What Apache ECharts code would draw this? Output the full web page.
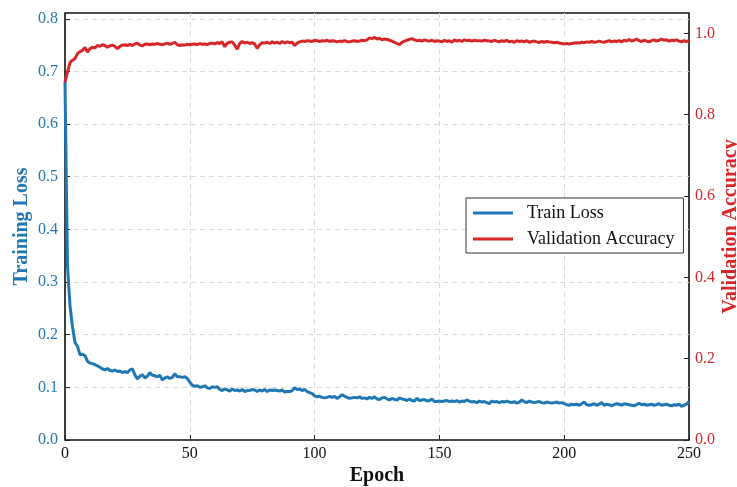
<!DOCTYPE html>
<html>
<head>
<meta charset="utf-8">
<script src="https://cdn.jsdelivr.net/npm/echarts@6/dist/echarts.min.js"></script>
<style>
  html, body { margin: 0; padding: 0; background: #fff; }
  #chart { width: 737px; height: 487px; }
</style>
</head>
<body>
<div id="chart"></div>
<script>
// training loss per epoch (0..250)
const trainLoss = [
  0.680, 0.330, 0.255, 0.215, 0.185, 0.178, 0.162, 0.163, 0.160, 0.150,
  0.146, 0.145, 0.143, 0.141, 0.138, 0.135, 0.133, 0.136, 0.132, 0.131,
  0.133, 0.130, 0.131, 0.128, 0.130, 0.128, 0.133, 0.135, 0.124, 0.116,
  0.121, 0.124, 0.118, 0.121, 0.128, 0.123, 0.122, 0.120, 0.123, 0.114,
  0.118, 0.120, 0.117, 0.119, 0.126, 0.120, 0.120, 0.119, 0.120, 0.117,
  0.110, 0.104, 0.102, 0.103, 0.100, 0.101, 0.103, 0.099, 0.098, 0.101,
  0.100, 0.101, 0.096, 0.094, 0.097, 0.095, 0.093, 0.097, 0.094, 0.095,
  0.093, 0.096, 0.092, 0.094, 0.094, 0.096, 0.095, 0.092, 0.095, 0.093,
  0.096, 0.092, 0.095, 0.094, 0.095, 0.094, 0.093, 0.095, 0.091, 0.092,
  0.092, 0.094, 0.099, 0.096, 0.097, 0.094, 0.096, 0.092, 0.090, 0.088,
  0.084, 0.082, 0.083, 0.081, 0.080, 0.081, 0.083, 0.081, 0.083, 0.079,
  0.082, 0.086, 0.083, 0.081, 0.079, 0.080, 0.081, 0.080, 0.082, 0.079,
  0.080, 0.078, 0.081, 0.079, 0.082, 0.078, 0.077, 0.080, 0.081, 0.078,
  0.076, 0.079, 0.077, 0.076, 0.080, 0.078, 0.077, 0.075, 0.078, 0.075,
  0.074, 0.079, 0.075, 0.076, 0.077, 0.074, 0.075, 0.078, 0.073, 0.073,
  0.074, 0.073, 0.074, 0.075, 0.073, 0.074, 0.073, 0.075, 0.072, 0.074,
  0.073, 0.076, 0.074, 0.072, 0.073, 0.071, 0.074, 0.072, 0.073, 0.071,
  0.069, 0.074, 0.072, 0.073, 0.071, 0.073, 0.072, 0.074, 0.072, 0.071,
  0.073, 0.070, 0.072, 0.076, 0.073, 0.071, 0.074, 0.072, 0.071, 0.072,
  0.073, 0.071, 0.070, 0.072, 0.071, 0.070, 0.071, 0.072, 0.070, 0.071,
  0.069, 0.067, 0.066, 0.068, 0.067, 0.068, 0.066, 0.069, 0.072, 0.067,
  0.066, 0.067, 0.069, 0.066, 0.068, 0.071, 0.066, 0.068, 0.067, 0.065,
  0.067, 0.069, 0.068, 0.066, 0.069, 0.068, 0.067, 0.066, 0.065, 0.067,
  0.070, 0.067, 0.068, 0.066, 0.067, 0.068, 0.066, 0.067, 0.069, 0.066,
  0.067, 0.068, 0.066, 0.065, 0.067, 0.066, 0.068, 0.064, 0.066, 0.068,
  0.073
];
// validation accuracy per epoch (0..250)
const valAcc = [
  0.880, 0.905, 0.928, 0.934, 0.938, 0.950, 0.955, 0.958, 0.965, 0.954,
  0.962, 0.966, 0.964, 0.970, 0.968, 0.972, 0.970, 0.966, 0.969, 0.971,
  0.968, 0.962, 0.968, 0.971, 0.972, 0.970, 0.973, 0.970, 0.974, 0.976,
  0.971, 0.969, 0.973, 0.974, 0.972, 0.974, 0.973, 0.975, 0.973, 0.972,
  0.974, 0.976, 0.973, 0.975, 0.978, 0.972, 0.970, 0.972, 0.971, 0.973,
  0.972, 0.973, 0.974, 0.972, 0.975, 0.973, 0.974, 0.972, 0.975, 0.976,
  0.974, 0.977, 0.975, 0.979, 0.967, 0.976, 0.978, 0.979, 0.971, 0.961,
  0.975, 0.980, 0.976, 0.978, 0.975, 0.977, 0.974, 0.963, 0.972, 0.977,
  0.976, 0.978, 0.975, 0.979, 0.976, 0.978, 0.975, 0.980, 0.976, 0.979,
  0.977, 0.978, 0.970, 0.976, 0.979, 0.981, 0.980, 0.982, 0.981, 0.980,
  0.983, 0.982, 0.980, 0.982, 0.981, 0.983, 0.980, 0.982, 0.981, 0.979,
  0.981, 0.980, 0.982, 0.980, 0.979, 0.981, 0.982, 0.980, 0.981, 0.983,
  0.982, 0.984, 0.989, 0.987, 0.990, 0.986, 0.988, 0.984, 0.986, 0.985,
  0.983, 0.981, 0.978, 0.975, 0.972, 0.978, 0.981, 0.983, 0.985, 0.987,
  0.984, 0.982, 0.983, 0.981, 0.984, 0.982, 0.981, 0.983, 0.980, 0.982,
  0.981, 0.979, 0.983, 0.980, 0.982, 0.978, 0.984, 0.981, 0.983, 0.980,
  0.984, 0.982, 0.983, 0.981, 0.983, 0.982, 0.982, 0.981, 0.983, 0.982,
  0.981, 0.980, 0.983, 0.981, 0.979, 0.982, 0.980, 0.983, 0.979, 0.981,
  0.978, 0.982, 0.980, 0.981, 0.979, 0.982, 0.978, 0.980, 0.981, 0.979,
  0.977, 0.980, 0.978, 0.980, 0.979, 0.978, 0.977, 0.978, 0.976, 0.975,
  0.974, 0.975, 0.974, 0.975, 0.976, 0.977, 0.976, 0.978, 0.977, 0.979,
  0.978, 0.980, 0.978, 0.979, 0.981, 0.979, 0.978, 0.980, 0.982, 0.979,
  0.981, 0.980, 0.982, 0.979, 0.983, 0.981, 0.985, 0.981, 0.983, 0.986,
  0.982, 0.980, 0.983, 0.981, 0.979, 0.982, 0.984, 0.981, 0.983, 0.986,
  0.983, 0.984, 0.981, 0.983, 0.982, 0.984, 0.981, 0.979, 0.982, 0.980,
  0.982
];
const epochs = trainLoss.map((v, i) => i);

const BLUE = "#1f77b4";
const RED = "#d62728";
const FONT = "Liberation Serif";
const gridLine = { color: "#d9d9d9", type: [5, 4] };

const chart = echarts.init(document.getElementById("chart"));
chart.setOption({
  animation: false,
  textStyle: { fontFamily: FONT },
  grid: {
    left: 65, right: 48, top: 13, bottom: 47,
    outerBoundsMode: "none",
    containLabel: false,
    show: true, borderColor: "#111", borderWidth: 1.6,
  },
  legend: {
    orient: "vertical",
    left: 466, top: 198,
    padding: [6, 9, 5, 7],
    itemGap: 8,
    itemWidth: 40,
    itemHeight: 3,
    itemTextGap: 14,
    icon: "rect",
    backgroundColor: "#fff",
    borderColor: "#333",
    borderWidth: 1,
    borderRadius: 0,
    textStyle: { fontFamily: FONT, fontSize: 18, color: "#111", padding: [0, 0, 0, 9] },
    data: ["Train Loss", "Validation Accuracy"],
  },
  xAxis: {
    type: "value",
    min: 0, max: 250, interval: 50,
    name: "Epoch",
    nameLocation: "middle",
    nameGap: 26,
    nameMoveOverlap: false,
    nameTextStyle: { fontFamily: FONT, fontSize: 20, fontWeight: "bold", color: "#111" },
    axisLine: { show: false },
    axisTick: { inside: true, length: 5, lineStyle: { color: "#222" } },
    axisLabel: { fontFamily: FONT, fontSize: 16, color: "#111", margin: 6 },
    splitLine: { show: true, showMinLine: false, showMaxLine: false, lineStyle: gridLine },
  },
  yAxis: [
    {
      type: "value",
      min: 0, max: 0.811, interval: 0.1,
      name: "Training Loss",
      nameLocation: "middle",
      nameGap: 33,
      nameMoveOverlap: false,
      nameTextStyle: { fontFamily: FONT, fontSize: 20, fontWeight: "bold", color: BLUE },
      axisLine: { show: false },
      axisTick: { inside: true, length: 5, lineStyle: { color: "#222" } },
      axisLabel: {
        fontFamily: FONT, fontSize: 16, color: BLUE, margin: 7,
        showMaxLabel: false,
        formatter: (v) => v.toFixed(1),
      },
      splitLine: { show: true, showMinLine: false, showMaxLine: false, lineStyle: gridLine },
    },
    {
      type: "value",
      min: 0, max: 1.05, interval: 0.2,
      name: "Validation Accuracy",
      nameLocation: "middle",
      nameGap: 32,
      nameRotate: 90,
      nameMoveOverlap: false,
      nameTextStyle: { fontFamily: FONT, fontSize: 20, fontWeight: "bold", color: RED },
      axisLine: { show: false },
      axisTick: { inside: true, length: 5, lineStyle: { color: "#222" } },
      axisLabel: {
        fontFamily: FONT, fontSize: 16, color: RED, margin: 6,
        showMaxLabel: false,
        formatter: (v) => v.toFixed(1),
      },
      splitLine: { show: false },
    },
  ],
  series: [
    {
      name: "Train Loss",
      type: "line",
      yAxisIndex: 0,
      showSymbol: false,
      color: BLUE,
      lineStyle: { width: 3, color: BLUE },
      data: epochs.map((e, i) => [e, trainLoss[i]]),
    },
    {
      name: "Validation Accuracy",
      type: "line",
      yAxisIndex: 1,
      showSymbol: false,
      color: RED,
      lineStyle: { width: 3, color: RED },
      data: epochs.map((e, i) => [e, valAcc[i]]),
    },
  ],
});
</script>
</body>
</html>
